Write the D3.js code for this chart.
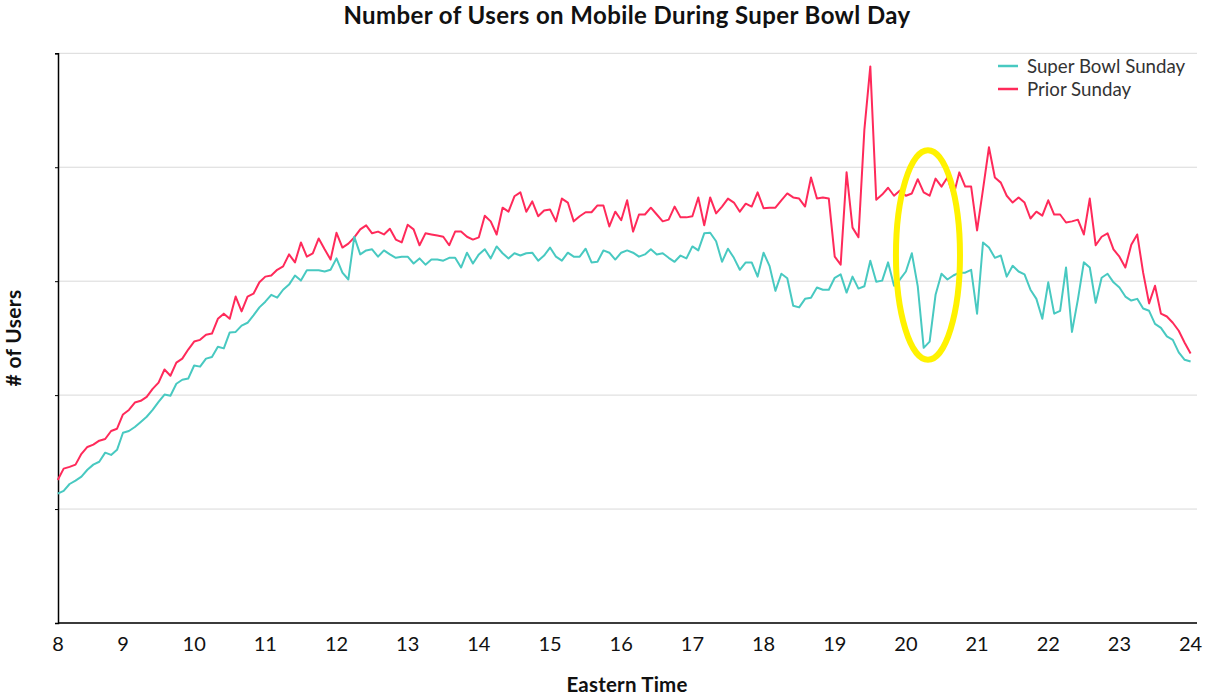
<!DOCTYPE html>
<html>
<head>
<meta charset="utf-8">
<script src="https://cdnjs.cloudflare.com/ajax/libs/d3/7.8.5/d3.min.js"></script>
<style>
  body { margin: 0; background: #fff; }
  text { font-family: Lato, "Noto Sans", sans-serif; }
</style>
</head>
<body>
<div id="chart"></div>
<script>
// 5-minute samples from 8:05 to 24:00 (relative users, unlabeled axis)
var startHour = 8 + 5 / 60;
var stepHours = 5 / 60;

var superBowlSunday = [
  22.7, 23.2, 24.4, 25.0, 25.7, 26.9, 27.8, 28.3, 29.9, 29.5,
  30.4, 33.4, 33.7, 34.4, 35.3, 36.2, 37.4, 38.8, 40.1, 39.9,
  42.0, 42.7, 42.9, 45.2, 45.0, 46.4, 46.7, 48.5, 48.2, 51.0,
  51.1, 52.2, 52.7, 54.0, 55.4, 56.4, 57.6, 57.1, 58.5, 59.4,
  61.0, 60.1, 61.9, 61.9, 61.9, 61.7, 62.0, 64.0, 61.5, 60.3,
  67.8, 64.7, 65.4, 65.6, 64.3, 65.4, 64.7, 64.1, 64.3, 64.3,
  63.1, 64.0, 62.9, 63.8, 63.8, 63.6, 64.1, 64.1, 62.4, 65.0,
  63.1, 64.7, 65.6, 64.0, 66.1, 64.9, 64.0, 64.9, 64.5, 64.9,
  65.0, 63.6, 64.5, 65.9, 64.3, 63.6, 65.0, 64.3, 64.3, 65.7,
  63.3, 63.4, 65.4, 65.0, 63.8, 65.0, 65.4, 65.0, 64.3, 64.7,
  65.6, 64.7, 64.9, 64.1, 63.4, 64.5, 64.0, 66.1, 65.4, 68.4,
  68.5, 67.0, 63.4, 65.7, 64.1, 62.0, 63.3, 63.3, 60.8, 65.0,
  62.7, 58.3, 61.3, 60.5, 55.7, 55.4, 56.9, 57.1, 58.9, 58.5,
  58.5, 60.6, 61.2, 58.0, 60.8, 58.7, 59.1, 63.6, 59.9, 60.1,
  63.3, 59.2, 60.3, 61.7, 64.9, 59.1, 48.3, 49.4, 57.6, 61.3,
  60.3, 61.0, 61.5, 61.5, 62.0, 54.3, 66.8, 65.9, 64.1, 64.5,
  60.8, 62.7, 61.7, 61.2, 58.5, 56.9, 53.4, 59.8, 54.3, 54.8,
  62.4, 51.1, 56.8, 63.3, 62.4, 56.2, 60.6, 61.3, 59.8, 58.9,
  57.3, 56.6, 56.9, 55.2, 54.8, 52.5, 51.8, 50.3, 49.7, 47.5,
  46.2, 45.9
];

var priorSunday = [
  25.1, 27.1, 27.4, 27.8, 29.7, 30.9, 31.3, 32.0, 32.3, 33.7,
  34.1, 36.6, 37.4, 38.7, 39.0, 39.7, 41.1, 42.2, 44.5, 43.4,
  45.7, 46.4, 48.0, 49.4, 49.7, 50.6, 50.8, 53.4, 54.3, 53.4,
  57.3, 54.7, 57.3, 57.8, 59.8, 60.8, 61.0, 62.0, 62.6, 64.7,
  63.3, 66.8, 64.3, 64.9, 67.5, 65.6, 63.8, 68.5, 65.9, 66.6,
  67.7, 69.1, 69.8, 68.4, 68.7, 68.2, 69.2, 67.3, 66.8, 69.9,
  69.1, 66.3, 68.4, 68.2, 68.0, 67.8, 66.3, 68.7, 68.7, 67.8,
  67.3, 67.7, 71.5, 70.5, 68.2, 72.9, 72.2, 74.9, 75.6, 72.2,
  74.0, 71.4, 72.4, 72.6, 70.5, 74.5, 73.8, 70.5, 71.4, 72.1,
  72.1, 73.3, 73.3, 69.6, 72.2, 70.7, 74.2, 68.7, 71.7, 71.7,
  72.9, 71.7, 70.5, 70.8, 73.1, 71.2, 71.2, 71.4, 74.7, 69.8,
  74.7, 71.9, 73.1, 74.5, 73.8, 72.2, 73.6, 73.1, 75.6, 72.8,
  72.9, 72.9, 74.2, 75.4, 74.7, 74.5, 73.1, 78.2, 74.5, 74.7,
  74.5, 64.3, 62.9, 79.1, 69.4, 67.7, 86.6, 97.7, 74.3, 75.2,
  76.4, 75.0, 75.9, 75.0, 75.4, 77.9, 75.6, 75.0, 78.0, 76.6,
  78.2, 74.9, 79.1, 76.6, 76.6, 68.9, 76.1, 83.5, 78.2, 77.3,
  75.0, 73.8, 74.7, 73.8, 71.0, 72.2, 71.5, 74.2, 71.7, 71.7,
  70.3, 70.5, 70.8, 68.2, 74.5, 66.3, 67.8, 68.4, 65.6, 64.3,
  62.4, 66.4, 68.2, 61.5, 56.1, 59.2, 54.3, 53.8, 52.7, 51.3,
  49.2, 47.3
];

var xTicks = [8, 9, 10, 11, 12, 13, 14, 15, 16, 17, 18, 19, 20, 21, 22, 23, 24];
var yTicks = [0, 20, 40, 60, 80, 100];

var seriesNames = ["Super Bowl Sunday", "Prior Sunday"];
var seriesColors = ["#48c9c1", "#ff2a5a"];

// highlighted halftime dip
var halftime = { hour: 20.31, value: 64.6, hw: 0.45, hv: 18.4 };

var width = 1209, height = 697;
var plotLeft = 58, plotRight = 1197;
var margin = { top: 53.3, bottom: 74 };

var svg = d3.select("#chart").append("svg")
    .attr("width", width)
    .attr("height", height);

var x = d3.scaleLinear().domain([8, 24]).range([51.8, 1190.6]);
var y = d3.scaleLinear().domain([0, 100]).range([height - margin.bottom, margin.top]);

// gridlines
svg.append("g")
    .selectAll("line")
    .data(yTicks)
    .enter().append("line")
    .attr("x1", plotLeft)
    .attr("x2", plotRight)
    .attr("y1", function(d) { return y(d); })
    .attr("y2", function(d) { return y(d); })
    .attr("stroke", "#d9d9d9")
    .attr("stroke-width", 1);

// y axis, no labels
var yAxis = svg.append("g")
    .attr("transform", "translate(" + plotLeft + ",0)")
    .call(d3.axisLeft(y).tickValues(yTicks).tickSize(3).tickFormat(""));
yAxis.select(".domain").attr("stroke", "#000").attr("stroke-width", 1.5);
yAxis.selectAll(".tick line").attr("stroke", "#000");

// x axis: line spans plot area, first label sits at the axis start
var xAxis = svg.append("g")
    .attr("transform", "translate(0," + y(0) + ")")
    .call(d3.axisBottom(x).tickValues(xTicks).tickSize(0).tickPadding(14).tickFormat(d3.format("d")));
xAxis.select(".domain").attr("d", "M" + plotLeft + ",0H" + plotRight)
    .attr("stroke", "#000").attr("stroke-width", 1.5);
xAxis.selectAll(".tick")
    .attr("transform", function(d) { return "translate(" + Math.max(x(d), plotLeft) + ",0)"; });
xAxis.selectAll("text")
    .style("font-family", "Lato, 'Noto Sans', sans-serif")
    .style("font-size", "20px")
    .attr("fill", "#111");

var line = d3.line()
    .x(function(d, i) { return x(startHour + i * stepHours); })
    .y(function(d) { return y(d); });

var allSeries = [superBowlSunday, priorSunday];
// draw prior first so super bowl sits on top
[1, 0].forEach(function(k) {
    svg.append("path")
        .datum(allSeries[k])
        .attr("fill", "none")
        .attr("stroke", seriesColors[k])
        .attr("stroke-width", 2)
        .attr("stroke-linejoin", "round")
        .attr("d", line);
});

// yellow annotation ellipse
svg.append("ellipse")
    .attr("cx", x(halftime.hour))
    .attr("cy", y(halftime.value))
    .attr("rx", x(halftime.hour + halftime.hw) - x(halftime.hour))
    .attr("ry", y(halftime.value - halftime.hv) - y(halftime.value))
    .attr("fill", "none")
    .attr("stroke", "#fff200")
    .attr("stroke-width", 6);

// legend
var legend = svg.append("g").attr("transform", "translate(998,66)");
seriesNames.forEach(function(name, i) {
    var row = legend.append("g").attr("transform", "translate(0," + (i * 23) + ")");
    row.append("line")
        .attr("x1", 0).attr("x2", 20)
        .attr("stroke", seriesColors[i])
        .attr("stroke-width", 2.5);
    row.append("text")
        .attr("x", 29)
        .attr("dy", "0.35em")
        .style("font-size", "18.7px")
        .attr("fill", "#333")
        .text(name);
});

// title and axis titles
svg.append("text")
    .attr("x", 627)
    .attr("y", 24)
    .attr("text-anchor", "middle")
    .style("font-size", "24px")
    .style("font-weight", "bold")
    .style("letter-spacing", "0.4px")
    .attr("fill", "#111")
    .text("Number of Users on Mobile During Super Bowl Day");

svg.append("text")
    .attr("x", 627)
    .attr("y", 692)
    .attr("text-anchor", "middle")
    .style("font-size", "20.5px")
    .style("font-weight", "bold")
    .style("letter-spacing", "0.2px")
    .attr("fill", "#111")
    .text("Eastern Time");

svg.append("text")
    .attr("transform", "translate(21,338) rotate(-90)")
    .attr("text-anchor", "middle")
    .style("font-size", "21px")
    .style("font-weight", "bold")
    .style("letter-spacing", "0.3px")
    .attr("fill", "#111")
    .text("# of Users");
</script>
</body>
</html>
